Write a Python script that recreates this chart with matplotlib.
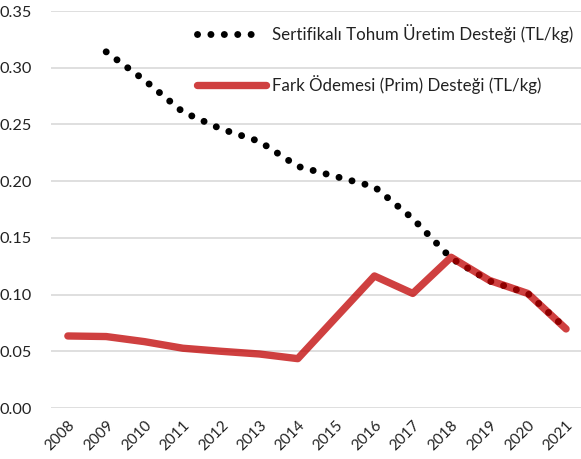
import matplotlib.pyplot as plt
from matplotlib.legend_handler import HandlerLine2D

# Datos
years = ['2008', '2009', '2010', '2011', '2012', '2013', '2014',
         '2015', '2016', '2017', '2018', '2019', '2020', '2021']
sertifikali = [None, 0.314, 0.289, 0.261, 0.246, 0.235, 0.213,
               0.204, 0.195, 0.167, 0.132, 0.112, 0.101, 0.070]
fark = [0.0635, 0.063, 0.0585, 0.0527, 0.050, 0.0476, 0.0435,
        0.080, 0.1164, 0.101, 0.1329, 0.1125, 0.101, 0.0697]

label_sert = 'Sertifikalı Tohum Üretim Desteği (TL/kg)'
label_fark = 'Fark Ödemesi (Prim) Desteği (TL/kg)'


# handle de puntos un poco más corto, como en el original
class ShortHandler(HandlerLine2D):
    def create_artists(self, legend, orig_handle, xdescent, ydescent,
                       width, height, fontsize, trans):
        return super().create_artists(legend, orig_handle, xdescent, ydescent,
                                      width * 0.82, height, fontsize, trans)


plt.rcParams['font.family'] = ['Lato', 'DejaVu Sans']

fig = plt.figure(figsize=(5.81, 4.59), dpi=100)
ax = fig.add_axes([51 / 581, 1 - 408 / 459, 530 / 581, 397 / 459])

x = list(range(len(years)))
xs = [i for i, v in zip(x, sertifikali) if v is not None]
ys = [v for v in sertifikali if v is not None]

l1, = ax.plot(xs, ys, color='black', linewidth=5.0, linestyle=(0, (0.01, 1.92)),
              dash_capstyle='round', label=label_sert, zorder=2)
l2, = ax.plot(x, fark, color='#C00000', alpha=0.75, linewidth=5.3,
              solid_capstyle='round', solid_joinstyle='round', label=label_fark, zorder=3)

ax.set_ylim(0, 0.35)
ax.set_xlim(-0.44, 13.39)
ax.set_yticks([0, 0.05, 0.10, 0.15, 0.20, 0.25, 0.30, 0.35])
ax.set_yticklabels(['0.00', '0.05', '0.10', '0.15', '0.20', '0.25', '0.30', '0.35'])
ax.set_xticks(x)
ax.set_xticklabels(years, rotation=45, ha='right', rotation_mode='anchor')
ax.tick_params(axis='both', length=0, labelsize=11.7, colors='#222222')
ax.tick_params(axis='x', labelsize=11)
ax.tick_params(axis='y', pad=14)
ax.tick_params(axis='x', pad=7)
ax.grid(axis='y', color='#D9D9D9', linewidth=1.2)
ax.set_axisbelow(True)
for s in ax.spines.values():
    s.set_visible(False)

leg = ax.legend(handles=[l1, l2], loc='upper left',
                bbox_to_anchor=(197 / 581, 1 - 24 / 459),
                bbox_transform=fig.transFigure, frameon=False, fontsize=12.2,
                handlelength=4.1, handletextpad=0.3, labelspacing=1.9,
                borderpad=0, borderaxespad=0,
                handler_map={l1: ShortHandler()})
for t in leg.get_texts():
    t.set_color('#222222')

fig.savefig('out.png', dpi=100)
